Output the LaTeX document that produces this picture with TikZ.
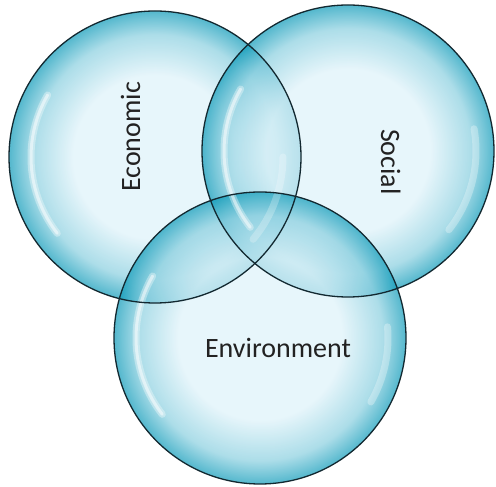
\documentclass[tikz,border=0pt]{standalone}
\usepackage{fontspec}
\setmainfont{Carlito}
\usepackage{tikz}

\definecolor{bubblein}{RGB}{222,242,249}
\definecolor{bubblemid}{RGB}{140,208,224}
\definecolor{bubbleout}{RGB}{18,156,186}
\definecolor{rimline}{RGB}{18,40,48}
\definecolor{labeltext}{RGB}{34,34,34}
\pgfdeclareradialshading{bubble}{\pgfpoint{0bp}{0bp}}{color(0bp)=(bubblein); color(14bp)=(bubblein); color(21bp)=(bubblemid); color(25bp)=(bubbleout); color(50bp)=(bubbleout)}

\begin{document}
\begin{tikzpicture}[x=1pt,y=1pt,
  bubblefill/.style={shading=bubble,fill opacity=0.72},
  rim/.style={draw=rimline,line width=1.3pt},
  gloss/.style={draw=white,line width=7pt,line cap=round,opacity=0.35},
  glint/.style={draw=white,line width=3pt,line cap=round,opacity=0.5},
  word/.style={text=labeltext,font=\fontsize{28}{30}\selectfont}]
\useasboundingbox (0,0) rectangle (496,487);
\coordinate (eco) at (155,330);
\coordinate (soc) at (348,336);
\coordinate (env) at (260,149);
% bubbles
\shade[bubblefill] (eco) circle (146);
\shade[bubblefill] (soc) circle (146);
\shade[bubblefill] (env) circle (146);
% shine
\draw[gloss] ([shift={(150:124)}]eco) arc (150:218:124);
\draw[glint] ([shift={(150:124)}]eco) arc (150:218:124);
\draw[gloss] ([shift={(150:124)}]soc) arc (150:218:124);
\draw[glint] ([shift={(150:124)}]soc) arc (150:218:124);
\draw[gloss] ([shift={(150:124)}]env) arc (150:218:124);
\draw[glint] ([shift={(150:124)}]env) arc (150:218:124);
\draw[gloss,opacity=0.3] ([shift={(-38:128)}]soc) arc (-38:10:128);
\draw[gloss,opacity=0.3] ([shift={(-30:128)}]env) arc (-30:5:128);
\draw[gloss,opacity=0.25] ([shift={(-40:128)}]eco) arc (-40:0:128);
% outlines
\draw[rim] (eco) circle (146);
\draw[rim] (soc) circle (146);
\draw[rim] (env) circle (146);
% labels
\node[word,rotate=90,anchor=base] (ecolabel) at (140,350) {Economic};
\node[word,rotate=-90,anchor=base] (soclabel) at (381,325) {Social};
\node[word,anchor=base] (envlabel) at (278,129) {Environment};
\end{tikzpicture}
\end{document}
